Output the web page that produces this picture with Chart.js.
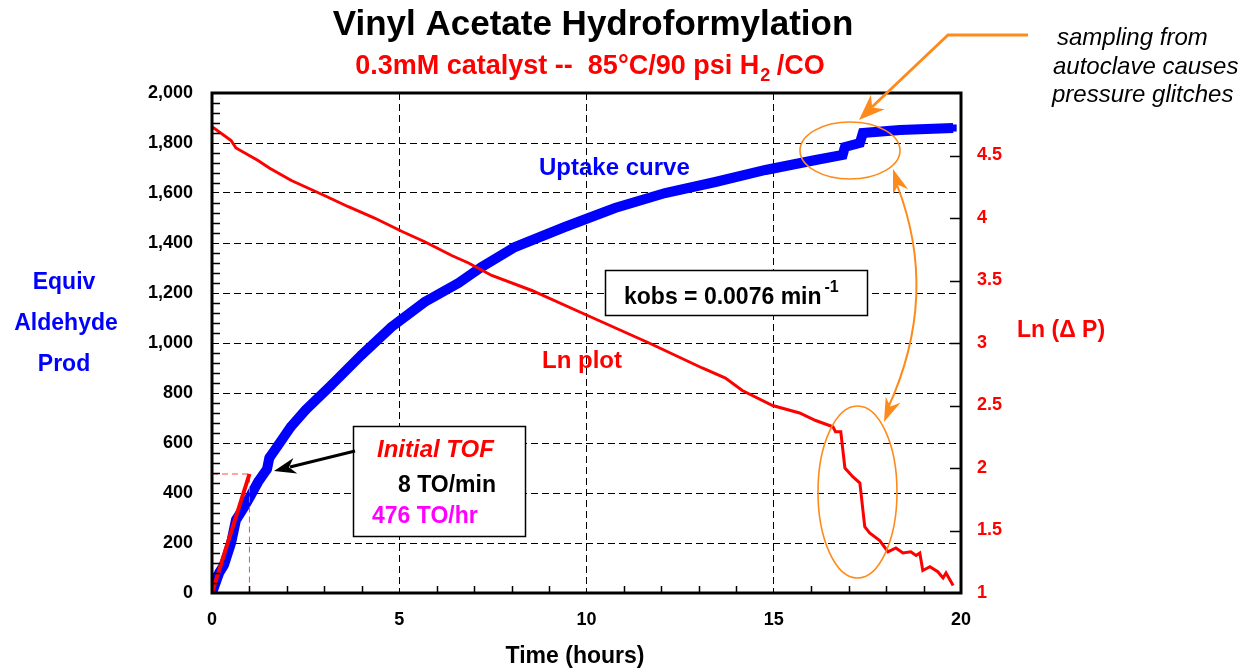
<!DOCTYPE html>
<html><head><meta charset="utf-8">
<script src="https://cdn.jsdelivr.net/npm/chart.js@4.4.0/dist/chart.umd.min.js"></script>
<style>html,body{margin:0;padding:0;background:#fff;} #wrap{width:1246px;height:669px;position:relative;}</style>
</head><body><div id="wrap"><canvas id="c"></canvas></div>
<script>
// ---- data ----
const uptakeTime  = [0, 0.19, 0.32, 0.51, 0.64, 0.86, 1.04, 1.23, 1.47, 1.53, 1.77, 2.1, 2.5, 3.19, 3.99, 4.79, 5.68, 6.58, 7.2, 8.09, 9.42, 10.76, 12.1, 13.44, 14.78, 16.12, 16.84, 16.9, 17.3, 17.38, 18.37, 19.79];
const uptakeEquiv = [0, 80, 112, 200, 292, 344, 392, 444, 496, 540, 592, 664, 732, 832, 952, 1064, 1164, 1240, 1304, 1384, 1464, 1540, 1600, 1644, 1692, 1732, 1752, 1784, 1800, 1840, 1852, 1860];

const lnTime   = [0, 0.51, 0.64, 1.23, 1.53, 2.12, 3.0, 3.64, 4.34, 5.09, 5.68, 6.4, 6.85, 7.47, 8.54, 9.88, 11.67, 13.09, 13.71, 14.16, 14.97, 15.69, 16.12, 16.58, 16.65, 16.79, 16.9, 17.11, 17.3, 17.43, 17.56, 17.83, 18.05, 18.26, 18.45, 18.66, 18.8, 18.9, 18.98, 19.17, 19.38, 19.52, 19.6, 19.79];
const lnDeltaP = [4.73, 4.62, 4.56, 4.46, 4.40, 4.30, 4.18, 4.09, 4.0, 3.89, 3.81, 3.70, 3.64, 3.54, 3.42, 3.24, 3.0, 2.8, 2.72, 2.62, 2.50, 2.44, 2.38, 2.33, 2.29, 2.29, 2.0, 1.93, 1.88, 1.53, 1.48, 1.42, 1.33, 1.36, 1.32, 1.33, 1.30, 1.32, 1.18, 1.21, 1.17, 1.12, 1.16, 1.06];

const tofTime   = [0, 1];
const tofEquiv  = [0, 476];
const guideTime  = [0, 1, 1];
const guideEquiv = [476, 476, 0];

const xTickValues  = [0, 5, 10, 15, 20];
const leftTickStep = 200;
const rightTickStep = 0.5;

const FONT = "'Liberation Sans', Arial, Helvetica, sans-serif";
Chart.defaults.font.family = FONT;

function pts(xs, ys) { return xs.map((v, i) => ({ x: v, y: ys[i] })); }

function arrowHead(ctx, tipX, tipY, fromX, fromY, len, half, color) {
  const ang = Math.atan2(tipY - fromY, tipX - fromX);
  const c = Math.cos(ang), s = Math.sin(ang);
  const bx = tipX - c * len, by = tipY - s * len;
  const nx = tipX - c * len * 0.7, ny = tipY - s * len * 0.7;
  ctx.fillStyle = color;
  ctx.beginPath();
  ctx.moveTo(tipX, tipY);
  ctx.lineTo(bx - s * half, by + c * half);
  ctx.lineTo(nx, ny);
  ctx.lineTo(bx + s * half, by - c * half);
  ctx.closePath();
  ctx.fill();
}

const decor = {
  id: 'decor',
  afterDatasetsDraw(chart) {
    const ctx = chart.ctx, a = chart.chartArea;
    const x = chart.scales.x, y = chart.scales.y, y2 = chart.scales.y2;
    ctx.save();
    ctx.strokeStyle = '#000';
    ctx.lineWidth = 1.5;
    ctx.beginPath();
    for (let v = 40; v < 2000; v += 40) {
      if (v % 200 === 0) continue;
      const py = Math.round(y.getPixelForValue(v)) + 0.5;
      ctx.moveTo(a.left, py); ctx.lineTo(a.left + 8, py);
    }
    for (let v = 1; v < 20; v++) {
      if (v % 5 === 0) continue;
      const px = Math.round(x.getPixelForValue(v)) + 0.5;
      ctx.moveTo(px, a.bottom); ctx.lineTo(px, a.bottom - 7);
    }
    for (let v = 1.5; v < 5; v += 0.5) {
      const py = Math.round(y2.getPixelForValue(v)) + 0.5;
      ctx.moveTo(a.right, py); ctx.lineTo(a.right - 11, py);
    }
    ctx.stroke();
    ctx.lineWidth = 3;
    ctx.strokeRect(a.left, a.top, a.right - a.left, a.bottom - a.top);
    ctx.restore();
  },
  afterDraw(chart) {
    const ctx = chart.ctx;
    ctx.save();
    ctx.textBaseline = 'alphabetic';
    // title
    ctx.fillStyle = '#000';
    ctx.font = "bold 35px " + FONT;
    ctx.textAlign = 'center';
    ctx.fillText('Vinyl Acetate Hydroformylation', 593, 35);
    // subtitle with subscript
    const p1 = '0.3mM catalyst --  85\u00B0C/90 psi H', p2 = '2', p3 = ' /CO';
    ctx.font = "bold 27px " + FONT;
    const w1 = ctx.measureText(p1).width, w3 = ctx.measureText(p3).width;
    ctx.font = "bold 18px " + FONT;
    const w2 = ctx.measureText(p2).width;
    let sx = 590 - (w1 + w2 + w3) / 2;
    ctx.textAlign = 'left';
    ctx.fillStyle = '#ff0000';
    ctx.font = "bold 27px " + FONT; ctx.fillText(p1, sx, 74);
    ctx.font = "bold 18px " + FONT; ctx.fillText(p2, sx + w1 + 1, 81);
    ctx.font = "bold 27px " + FONT; ctx.fillText(p3, sx + w1 + w2, 74);

    // left axis title
    ctx.textAlign = 'center';
    ctx.fillStyle = '#0000ff';
    ctx.font = "bold 23px " + FONT;
    ctx.fillText('Equiv', 64, 289);
    ctx.fillText('Aldehyde', 66, 330);
    ctx.fillText('Prod', 64, 371);
    // right axis title
    ctx.textAlign = 'left';
    ctx.fillStyle = '#ff0000';
    ctx.fillText('Ln (\u0394 P)', 1017, 337);
    // x axis title
    ctx.textAlign = 'center';
    ctx.fillStyle = '#000';
    ctx.fillText('Time (hours)', 575, 663);

    // in-plot labels
    ctx.textAlign = 'left';
    ctx.fillStyle = '#0000ff';
    ctx.font = "bold 24px " + FONT;
    ctx.fillText('Uptake curve', 539, 175);
    ctx.fillStyle = '#ff0000';
    ctx.fillText('Ln plot', 542, 368);

    // kobs box
    ctx.fillStyle = '#fff';
    ctx.fillRect(605, 270, 263, 46);
    ctx.strokeStyle = '#000'; ctx.lineWidth = 1.5;
    ctx.strokeRect(605.5, 270.5, 262, 45);
    ctx.fillStyle = '#000';
    ctx.font = "bold 23px " + FONT;
    const kt = 'kobs = 0.0076 min';
    ctx.fillText(kt, 624, 304);
    const kw = ctx.measureText(kt).width;
    ctx.font = "bold 16px " + FONT;
    ctx.fillText('-1', 624 + kw + 3, 292);

    // TOF box
    ctx.fillStyle = '#fff';
    ctx.fillRect(353, 426, 173, 111);
    ctx.strokeStyle = '#000'; ctx.lineWidth = 1.5;
    ctx.strokeRect(353.5, 426.5, 172, 110);
    ctx.font = "italic bold 24px " + FONT;
    ctx.fillStyle = '#ff0000';
    ctx.fillText('Initial TOF', 377, 457);
    ctx.font = "bold 23px " + FONT;
    ctx.fillStyle = '#000';
    ctx.fillText('8 TO/min', 398, 492);
    ctx.fillStyle = '#ff00ff';
    ctx.fillText('476 TO/hr', 372, 523);

    // black arrow to curve
    ctx.strokeStyle = '#000'; ctx.lineWidth = 3;
    ctx.beginPath(); ctx.moveTo(355, 451); ctx.lineTo(290, 467); ctx.stroke();
    arrowHead(ctx, 274, 471, 355, 451, 22, 8, '#000');

    // orange annotations
    const OR = '#ff8a1c';
    ctx.strokeStyle = OR; ctx.lineWidth = 1.6;
    ctx.beginPath(); ctx.ellipse(850, 150.5, 50, 28.5, 0, 0, Math.PI * 2); ctx.stroke();
    ctx.beginPath(); ctx.ellipse(857.5, 492, 39.5, 86, 0, 0, Math.PI * 2); ctx.stroke();
    ctx.lineWidth = 2.8;
    ctx.beginPath(); ctx.moveTo(1028, 35); ctx.lineTo(948, 35); ctx.lineTo(872, 107); ctx.stroke();
    arrowHead(ctx, 859, 120, 948, 35, 26, 10, OR);
    ctx.lineWidth = 2;
    ctx.beginPath(); ctx.moveTo(897, 185); ctx.quadraticCurveTo(940, 295, 888, 408); ctx.stroke();
    arrowHead(ctx, 893, 169, 905, 205, 24, 8, OR);
    arrowHead(ctx, 884, 422, 898, 388, 24, 8, OR);

    // right note
    ctx.fillStyle = '#000';
    ctx.font = "italic 24px " + FONT;
    ctx.textAlign = 'left';
    ctx.fillText('sampling from', 1057, 45);
    ctx.fillText('autoclave causes', 1053, 74);
    ctx.fillText('pressure glitches', 1052, 102);
    ctx.restore();
  }
};

new Chart(document.getElementById('c'), {
  type: 'line',
  data: {
    datasets: [
      { label: 'Uptake curve', data: pts(uptakeTime, uptakeEquiv), yAxisID: 'y',
        borderColor: '#0000ff', backgroundColor: '#0000ff', borderWidth: 10,
        pointStyle: 'rect', pointRadius: 5, pointBorderWidth: 0, tension: 0, order: 4 },
      { label: 'Ln plot', data: pts(lnTime, lnDeltaP), yAxisID: 'y2',
        borderColor: '#ff0000', borderWidth: 3, pointRadius: 0, tension: 0, order: 2 },
      { label: 'guide', data: pts(guideTime, guideEquiv), yAxisID: 'y',
        borderColor: '#ff4a4a', borderWidth: 1, borderDash: [6, 4], pointRadius: 0, tension: 0, order: 3 },
      { label: 'Initial TOF', data: pts(tofTime, tofEquiv), yAxisID: 'y',
        borderColor: '#ff0000', borderWidth: 4, pointRadius: 0, tension: 0, order: 1 }
    ]
  },
  options: {
    responsive: true, maintainAspectRatio: false, animation: false, events: [],
    layout: { padding: { top: 93, left: 0, right: 0, bottom: 0 } },
    plugins: { legend: { display: false }, tooltip: { enabled: false }, title: { display: false } },
    scales: {
      x: {
        type: 'linear', min: 0, max: 20,
        afterFit(s) { s.height = 76; },
        afterBuildTicks(s) { s.ticks = xTickValues.map(v => ({ value: v })); },
        ticks: { color: '#000', padding: 16, font: { size: 18, weight: 'bold' }, maxRotation: 0 },
        grid: { color: '#000', lineWidth: 1, drawTicks: false },
        border: { display: false, dash: [7, 4] }
      },
      y: {
        type: 'linear', position: 'left', min: 0, max: 2000,
        afterFit(s) { s.width = 212; },
        ticks: { stepSize: leftTickStep, color: '#000', padding: 19, font: { size: 18, weight: 'bold' },
                 callback: v => v.toLocaleString('en-US') },
        grid: { color: '#000', lineWidth: 1, drawTicks: false },
        border: { display: false, dash: [7, 4] }
      },
      y2: {
        type: 'linear', position: 'right', min: 1, max: 5,
        afterFit(s) { s.width = 285; },
        ticks: { stepSize: rightTickStep, color: '#ff0000', padding: 16, font: { size: 18, weight: 'bold' },
                 callback: v => (v === 5 ? '' : String(v)) },
        grid: { display: false, drawTicks: false },
        border: { display: false }
      }
    }
  },
  plugins: [decor]
});
</script>
</body></html>
